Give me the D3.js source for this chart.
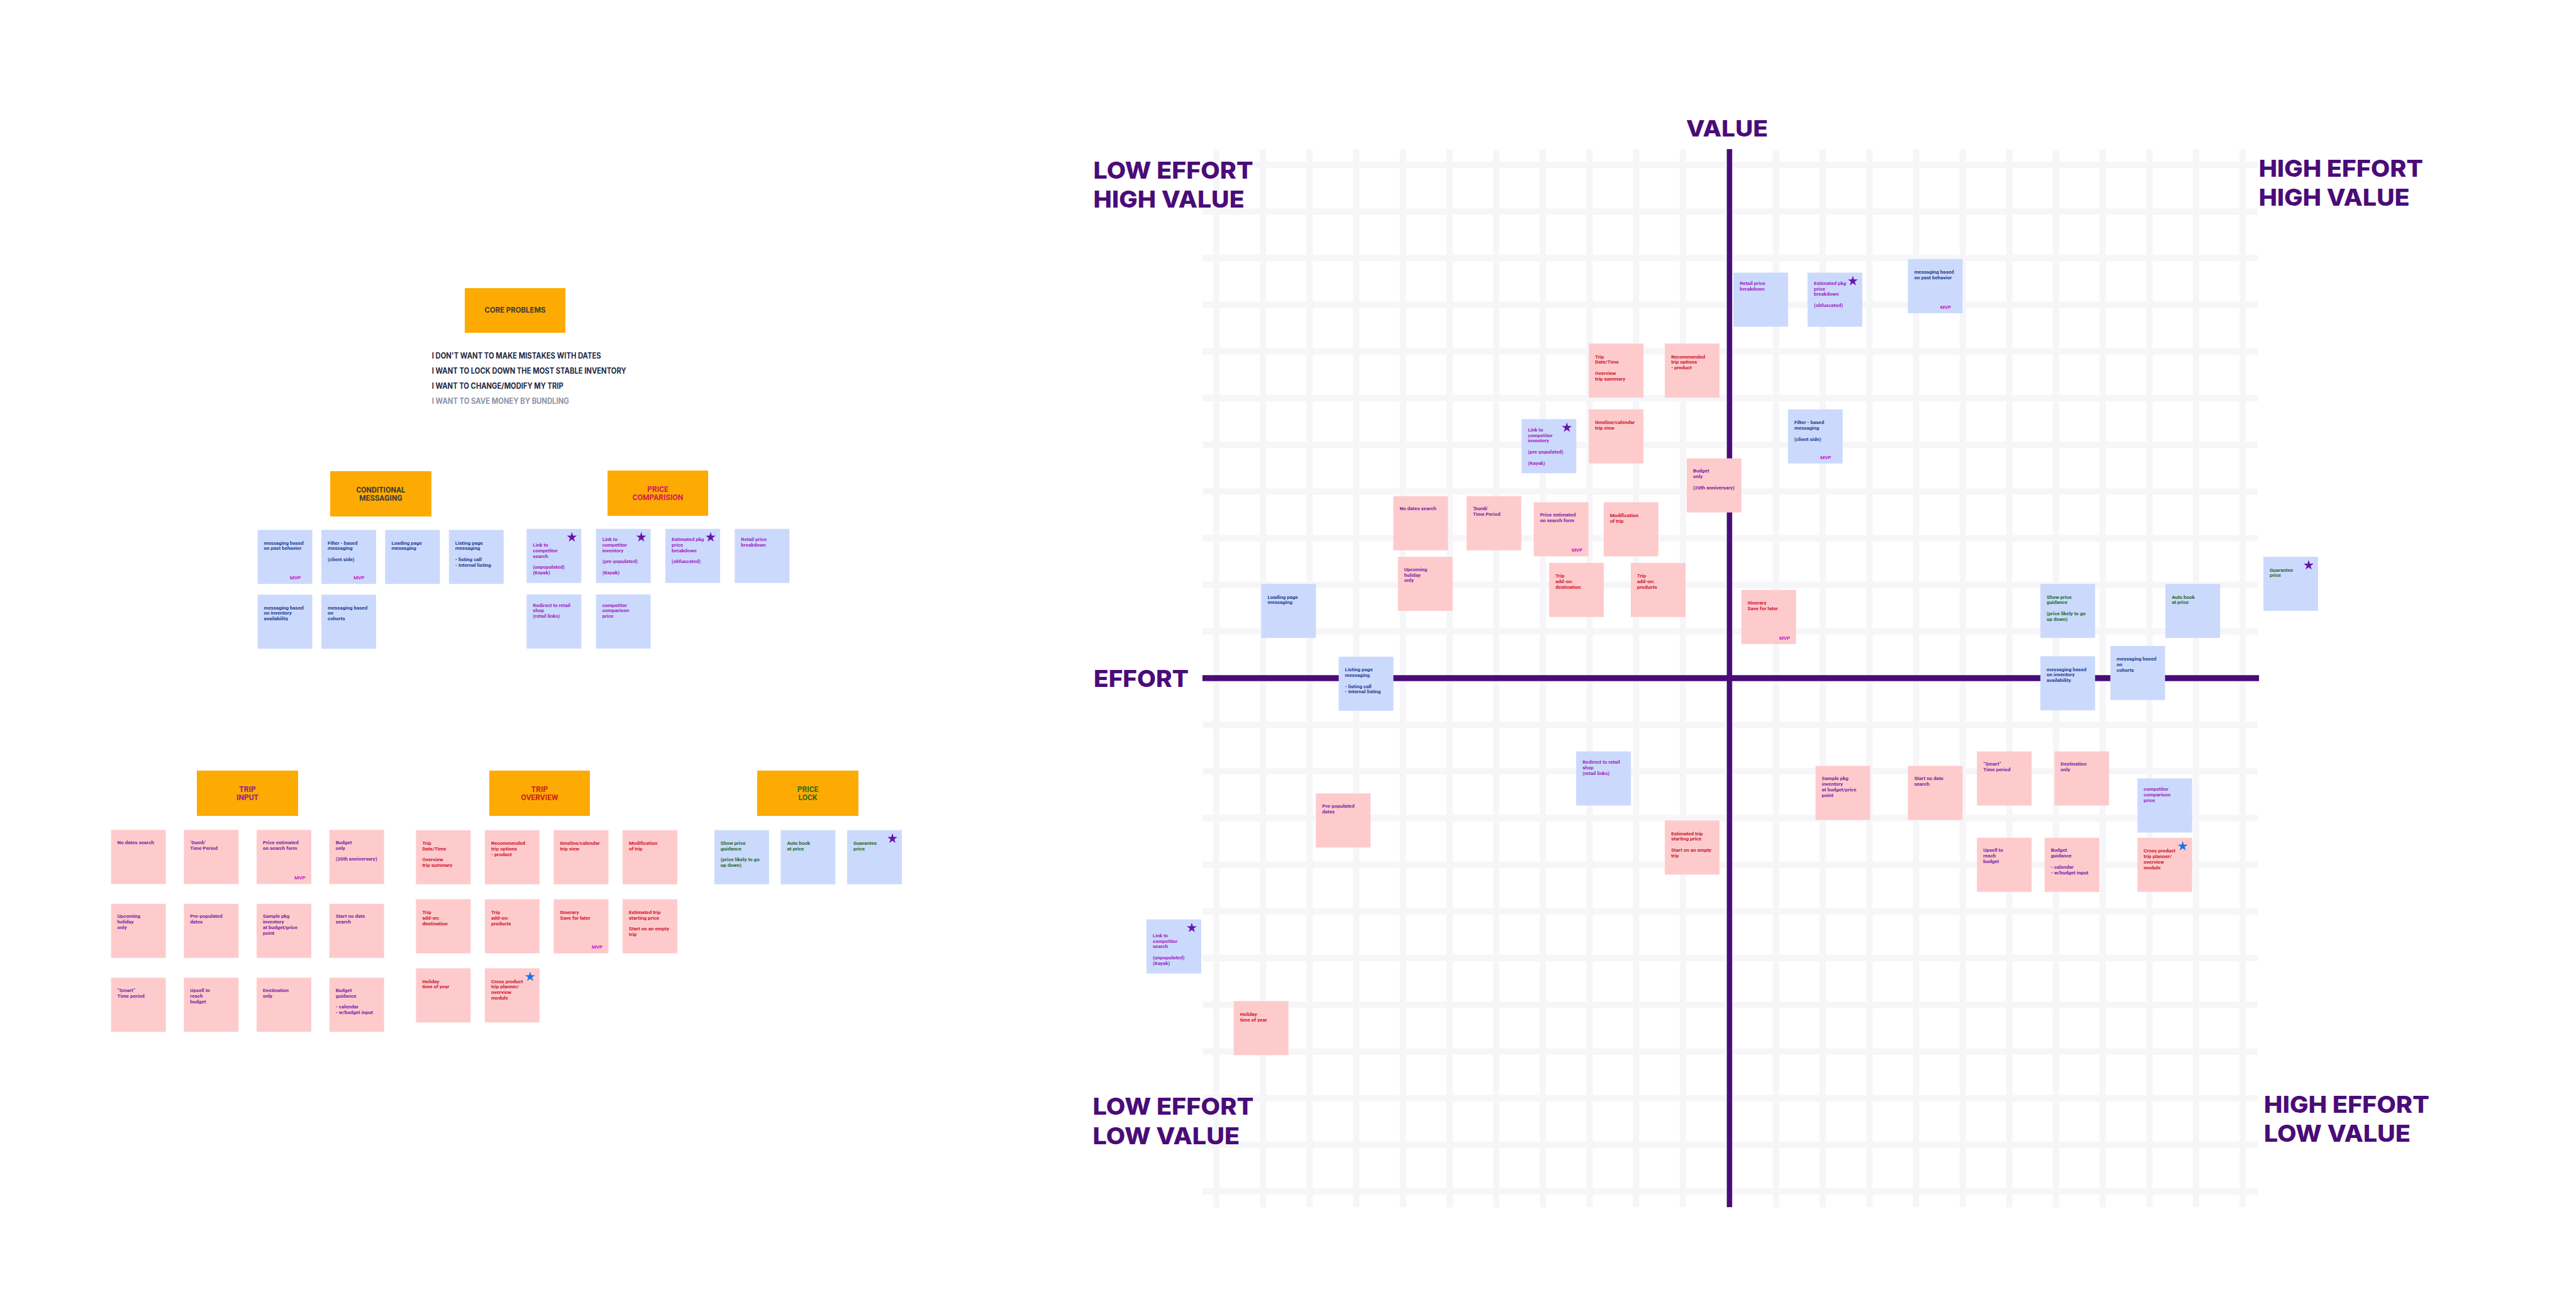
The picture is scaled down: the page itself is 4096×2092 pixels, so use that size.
<!DOCTYPE html>
<html><head><meta charset="utf-8">
<script src="https://cdn.jsdelivr.net/npm/d3@7"></script>
<style>html,body{margin:0;padding:0;background:#fff;} svg{display:block}</style>
</head><body>
<svg id="c" width="4096" height="2092"></svg>
<script>
// ================= DATA =================
const coreProblems = [
  "I DON'T WANT TO MAKE MISTAKES WITH DATES",
  "I WANT TO LOCK DOWN THE MOST STABLE INVENTORY",
  "I WANT TO CHANGE/MODIFY MY TRIP",
  "I WANT TO SAVE MONEY BY BUNDLING"
];
const coreProblemMuted = [false, false, false, true];

const conditionalMessagingNotes = [
  {id:"cm1", lines:["messaging based","on past behavior"], mvp:true, row:0, col:0},
  {id:"cm2", lines:["Filter - based","messaging","","(client side)"], mvp:true, row:0, col:1},
  {id:"cm3", lines:["Loading page","messaging"], row:0, col:2},
  {id:"cm4", lines:["Listing page","messaging","","- listing call","- Internal listing"], row:0, col:3},
  {id:"cm5", lines:["messaging based","on inventory","availability"], row:1, col:0},
  {id:"cm6", lines:["messaging based","on","cohorts"], row:1, col:1}
];
const priceComparisonNotes = [
  {id:"pc1", lines:["","Link to","competitor","search","","(unpopulated)","(Kayak)"], star:"purple", row:0, col:0},
  {id:"pc2", lines:["Link to","competitor","inventory","","(pre-populated)","","(Kayak)"], star:"purple", row:0, col:1},
  {id:"pc3", lines:["Estimated pkg","price","breakdown","","(obfuscated)"], star:"purple", row:0, col:2},
  {id:"pc4", lines:["Retail price","breakdown"], row:0, col:3},
  {id:"pc5", lines:["Redirect to retail","shop","(retail links)"], row:1, col:0},
  {id:"pc6", lines:["competitor","comparison","price"], row:1, col:1}
];
const tripInputNotes = [
  {id:"ti1", lines:["No dates search"], row:0, col:0},
  {id:"ti2", lines:["\u2018Dumb\u2019","Time Period"], row:0, col:1},
  {id:"ti3", lines:["Price estimated","on search form"], mvp:true, row:0, col:2},
  {id:"ti4", lines:["Budget","only","","(20th anniversary)"], row:0, col:3},
  {id:"ti5", lines:["Upcoming","holiday","only"], row:1, col:0},
  {id:"ti6", lines:["Pre-populated","dates"], row:1, col:1},
  {id:"ti7", lines:["Sample pkg","inventory","at budget/price","point"], row:1, col:2},
  {id:"ti8", lines:["Start no date","search"], row:1, col:3},
  {id:"ti9", lines:["\u201CSmart\u201D","Time period"], row:2, col:0},
  {id:"ti10", lines:["Upsell to","reach","budget"], row:2, col:1},
  {id:"ti11", lines:["Destination","only"], row:2, col:2},
  {id:"ti12", lines:["Budget","guidance","","- calendar","- w/budget input"], row:2, col:3}
];
const tripOverviewNotes = [
  {id:"to1", lines:["Trip","Date/Time","","Overview","trip summary"], row:0, col:0},
  {id:"to2", lines:["Recommended","trip options","- product"], row:0, col:1},
  {id:"to3", lines:["timeline/calendar","trip view"], row:0, col:2},
  {id:"to4", lines:["Modification","of trip"], row:0, col:3},
  {id:"to5", lines:["Trip","add-on:","destination"], row:1, col:0},
  {id:"to6", lines:["Trip","add-on:","products"], row:1, col:1},
  {id:"to7", lines:["Itinerary","Save for later"], mvp:true, row:1, col:2},
  {id:"to8", lines:["Estimated trip","starting price","","Start on an empty","trip"], row:1, col:3},
  {id:"to9", lines:["Holiday","time of year"], row:2, col:0},
  {id:"to10", lines:["Cross product","trip planner/","overview","module"], star:"blue", row:2, col:1}
];
const priceLockNotes = [
  {id:"pl1", lines:["Show price","guidance","","(price likely to go","up down)"], row:0, col:0},
  {id:"pl2", lines:["Auto book","at price"], row:0, col:1},
  {id:"pl3", lines:["Guarantee","price"], star:"purple", row:0, col:2}
];

// Effort / value matrix placement (grid units, centre of each note)
const matrixIds    = ["pc4","pc3","cm1","cm2","ti4","to1","to2","to3","pc2","ti1","ti2","ti3","to4","ti5","to5","to6","to7","cm3","cm4","pl1","pl2","pl3","cm5","cm6","pc5","ti6","to8","ti7","ti8","ti9","ti11","pc6","ti10","ti12","to10","pc1","to9"];
const matrixEffort = [0.67, 2.26, 4.41, 1.84,-0.33,-2.43,-0.80,-2.43,-3.87,-6.62,-5.05,-3.61,-2.11,-6.52,-3.28,-1.53, 0.84,-9.45,-7.79, 7.25, 9.93,12.03, 7.25, 8.75,-2.70,-8.28,-0.80, 2.43, 4.41, 5.89, 7.55, 9.33, 5.89, 7.34, 9.33,-11.91,-10.04];
const matrixValue  = [8.11, 8.11, 8.40, 5.18, 4.13, 6.59, 6.59, 5.18, 4.97, 3.32, 3.32, 3.19, 3.19, 2.02, 1.89, 1.89, 1.31, 1.44,-0.12, 1.44, 1.44, 2.02,-0.11, 0.11,-2.15,-3.05,-3.63,-2.46,-2.46,-2.15,-2.15,-2.73,-4.00,-4.00,-4.00,-5.75,-7.50];
const gridTicks = d3.range(-11, 12);

const quadrantLabels = [
  {lines:["LOW EFFORT","HIGH VALUE"], corner:"tl"},
  {lines:["HIGH EFFORT","HIGH VALUE"], corner:"tr"},
  {lines:["LOW EFFORT","LOW VALUE"], corner:"bl"},
  {lines:["HIGH EFFORT","LOW VALUE"], corner:"br"}
];
const axisTitles = ["VALUE","EFFORT"];

// ================= STYLES / LAYOUT =================
const C = {
  orange:"#FDAB03", blue:"#CBDAFC", pink:"#FECBCC", axis:"#4A0C78", grid:"#F6F6F9",
  navy:"#1D3C8F", pcText:"#A01FC2", tiText:"#7B1FA5", toText:"#CC1530", plText:"#1F6B2A",
  mvp:"#C520C8", starPurple:"#6A11B0", starBlue:"#1A73E8"
};
const NOTE_W = 87, NOTE_H = 86, LINE_H = 8.8;
const groups = [
  {key:"cm", notes:conditionalMessagingNotes, title:["CONDITIONAL","MESSAGING"], titleColor:"#3A3A3A",
   box:[525,749,161,72], titleY:[783.3,796], bg:C.blue, fg:C.navy, top:20.7, mvpInset:27,
   cols:[0,3,409.6,713.8], rows:[0,1,842.3,945.3]},
  {key:"pc", notes:priceComparisonNotes, title:["PRICE","COMPARISION"], titleColor:"#D4165F",
   box:[966,748,160,72], titleY:[782.3,795.3], bg:C.blue, fg:C.pcText, top:16.8, mvpInset:18,
   cols:[0,3,837.3,1168.3], rows:[0,1,840.7,945]},
  {key:"ti", notes:tripInputNotes, title:["TRIP","INPUT"], titleColor:"#8E1E92",
   box:[313,1225,161,72], titleY:[1258.6,1271.6], bg:C.pink, fg:C.tiText, top:20, mvpInset:18,
   cols:[0,3,176.6,523.7], rows:[0,2,1319.3,1554.3]},
  {key:"to", notes:tripOverviewNotes, title:["TRIP","OVERVIEW"], titleColor:"#D01C1C",
   box:[778,1225,160,72], titleY:[1258.6,1271.6], bg:C.pink, fg:C.toText, top:20.7, mvpInset:18,
   cols:[0,3,661.4,990], rows:[0,2,1319.7,1539.3]},
  {key:"pl", notes:priceLockNotes, title:["PRICE","LOCK"], titleColor:"#2E6B1E",
   box:[1204,1225,161,72], titleY:[1258.6,1271.6], bg:C.blue, fg:C.plText, top:20.7, mvpInset:18,
   cols:[0,2,1135.8,1347], rows:[0,1,1319.7,1424]}
];

const svg = d3.select("#c");
const noteFont = "Roboto, 'Noto Sans', sans-serif";
const bigFont = "Inter, 'Open Sans', sans-serif";

function drawNote(g, note, grp, x, y) {
  const n = g.append("g").attr("transform", `translate(${x},${y})`);
  n.append("rect").attr("width", NOTE_W).attr("height", NOTE_H).attr("fill", grp.bg);
  const t = n.append("text").attr("font-family", noteFont).attr("font-size", 8)
    .attr("font-weight", 700).attr("fill", grp.fg);
  note.lines.forEach((ln, i) => {
    if (!ln) return;
    t.append("tspan").attr("x", 10).attr("y", grp.top + i * LINE_H + 2.7).text(ln);
  });
  if (note.mvp) {
    n.append("text").attr("x", NOTE_W - grp.mvpInset).attr("y", 78.8)
      .attr("text-anchor", "middle").attr("font-family", noteFont).attr("font-size", 8)
      .attr("font-weight", 700).attr("fill", C.mvp).text("MVP");
  }
  if (note.star) {
    n.append("path").attr("d", d3.symbol(d3.symbolStar, 78)())
      .attr("transform", `translate(${NOTE_W - 15},13.5)`)
      .attr("fill", note.star === "blue" ? C.starBlue : C.starPurple);
  }
}

// ---------- Left board: core problems ----------
const left = svg.append("g");
left.append("rect").attr("x", 739).attr("y", 458).attr("width", 160).attr("height", 71).attr("fill", C.orange);
left.append("text").attr("x", 819).attr("y", 497).attr("text-anchor", "middle")
  .attr("font-family", bigFont).attr("font-weight", 700).attr("font-size", 11.5)
  .attr("fill", "#3B3B3B").attr("textLength", 97).attr("lengthAdjust", "spacingAndGlyphs")
  .text("CORE PROBLEMS");
const cpWidths = [269, 309, 209, 218];
const cpY = d3.scaleLinear().domain([0, 3]).range([569.5, 641.5]);
coreProblems.forEach((s, i) => {
  left.append("text").attr("x", 686.7).attr("y", cpY(i))
    .attr("font-family", bigFont).attr("font-weight", 700).attr("font-size", 12.5)
    .attr("fill", coreProblemMuted[i] ? "#8C95A8" : "#1F2A44")
    .attr("textLength", cpWidths[i]).attr("lengthAdjust", "spacingAndGlyphs").text(s);
});

// ---------- Left board: groups ----------
const noteIndex = {};
groups.forEach(grp => {
  const g = left.append("g");
  const [bx, by, bw, bh] = grp.box;
  g.append("rect").attr("x", bx).attr("y", by).attr("width", bw).attr("height", bh).attr("fill", C.orange);
  grp.title.forEach((ln, i) => {
    g.append("text").attr("x", bx + bw / 2).attr("y", grp.titleY[i]).attr("text-anchor", "middle")
      .attr("font-family", noteFont).attr("font-weight", 700).attr("font-size", 12)
      .attr("fill", grp.titleColor).text(ln);
  });
  const cx = d3.scaleLinear().domain(grp.cols.slice(0, 2)).range(grp.cols.slice(2));
  const ry = d3.scaleLinear().domain(grp.rows.slice(0, 2)).range(grp.rows.slice(2));
  grp.notes.forEach(nt => {
    noteIndex[nt.id] = {note: nt, grp};
    drawNote(g, nt, grp, cx(nt.col), ry(nt.row));
  });
});

// ---------- Effort / Value matrix ----------
const xS = d3.scaleLinear().domain([-11, 11]).range([1934, 3566]);
const yS = d3.scaleLinear().domain([-11, 11]).range([1894, 262]);
const M = svg.append("g");
const gx0 = xS(-11) - 22, gx1 = xS(11) + 24, gy0 = yS(11) - 25, gy1 = yS(-11) + 25;
M.append("g").selectAll("line.v").data(gridTicks).join("line")
  .attr("x1", d => xS(d)).attr("x2", d => xS(d)).attr("y1", gy0).attr("y2", gy1)
  .attr("stroke", C.grid).attr("stroke-width", 10);
M.append("g").selectAll("line.h").data(gridTicks).join("line")
  .attr("y1", d => yS(d)).attr("y2", d => yS(d)).attr("x1", gx0).attr("x2", gx1)
  .attr("stroke", C.grid).attr("stroke-width", 10);
// axes
M.append("line").attr("x1", xS(0)).attr("x2", xS(0)).attr("y1", gy0).attr("y2", gy1)
  .attr("stroke", C.axis).attr("stroke-width", 8.5);
M.append("line").attr("x1", gx0).attr("x2", gx1 + 2).attr("y1", yS(0)).attr("y2", yS(0))
  .attr("stroke", C.axis).attr("stroke-width", 9.5);

// notes on matrix
matrixIds.forEach((id, i) => {
  const ref = noteIndex[id];
  const x = xS(matrixEffort[i]) - NOTE_W / 2;
  const y = yS(matrixValue[i]) - NOTE_H / 2;
  drawNote(M, ref.note, ref.grp, x, y);
});

// axis titles
M.append("text").attr("x", xS(0) - 4).attr("y", 217).attr("text-anchor", "middle")
  .attr("font-family", bigFont).attr("font-weight", 800).attr("font-size", 36)
  .attr("fill", C.axis).attr("textLength", 130).attr("lengthAdjust", "spacingAndGlyphs").text(axisTitles[0]);
M.append("text").attr("x", 1739).attr("y", yS(0) + 13.5)
  .attr("font-family", bigFont).attr("font-weight", 800).attr("font-size", 37)
  .attr("fill", C.axis).attr("textLength", 151).attr("lengthAdjust", "spacingAndGlyphs").text(axisTitles[1]);

// quadrant labels
const qPos = {
  tl: {x:1738.6, y:[283.7, 330], w:[254, 240]},
  tr: {x:3591.4, y:[281, 327], w:[261.6, 240]},
  bl: {x:1737.5, y:[1772.4, 1819], w:[256, 233.5]},
  br: {x:3599.8, y:[1769, 1815], w:[263, 233]}
};
quadrantLabels.forEach(q => {
  const p = qPos[q.corner];
  q.lines.forEach((ln, i) => {
    M.append("text").attr("x", p.x).attr("y", p.y[i])
      .attr("font-family", bigFont).attr("font-weight", 800).attr("font-size", 37)
      .attr("fill", C.axis).attr("textLength", p.w[i]).attr("lengthAdjust", "spacingAndGlyphs").text(ln);
  });
});
</script>
</body></html>
